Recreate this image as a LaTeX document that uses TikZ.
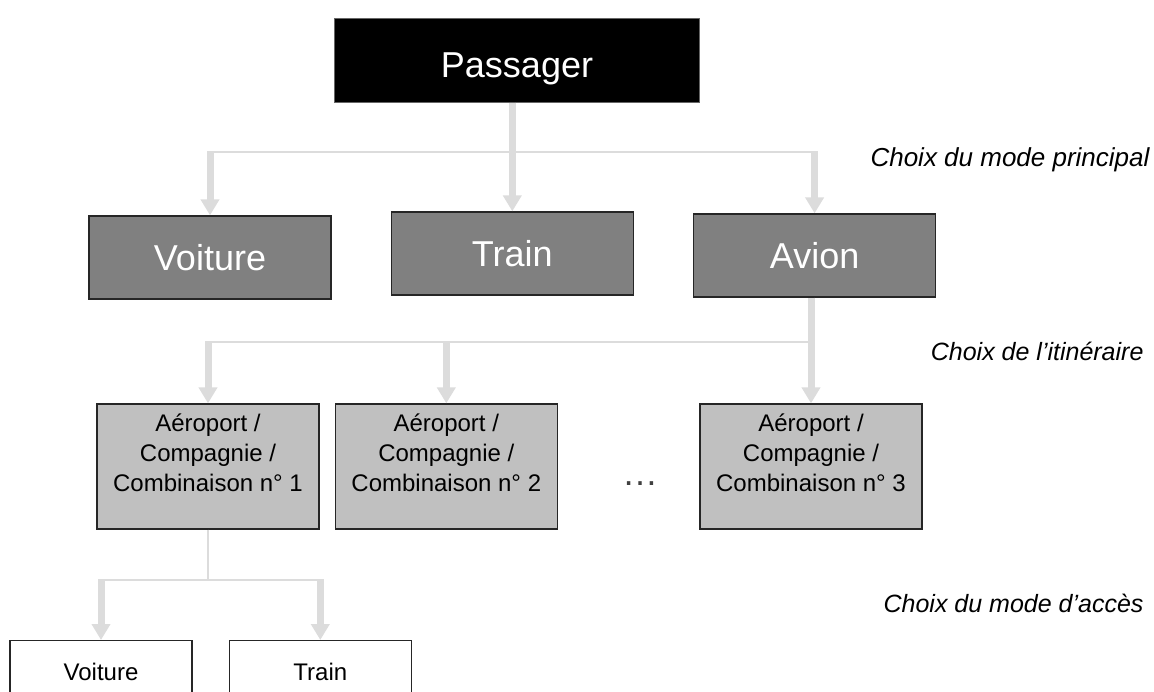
\documentclass[tikz,border=0pt]{standalone}
\usepackage{fontspec}
\setmainfont{Liberation Sans}
\usetikzlibrary{positioning,arrows.meta}

\definecolor{flechegris}{HTML}{DCDCDC}
\definecolor{modegris}{HTML}{808080}
\definecolor{routegris}{HTML}{C0C0C0}

\newcommand{\combi}[1]{A\'eroport /\\Compagnie /\\Combinaison n\textdegree\ #1\\[-2pt]\mbox{}}

\begin{document}
\begin{tikzpicture}[x=1pt,y=-1pt,
	racine/.style={fill=black, draw=black!60, line width=1pt, text=white, minimum width=365pt, minimum height=84pt, text height=34pt, text depth=0pt, font=\fontsize{36}{43}\selectfont},
	mode/.style={fill=modegris, draw=black!85, line width=1.3pt, text=white, minimum width=242pt, minimum height=83pt, font=\fontsize{36}{43}\selectfont},
	route/.style={fill=routegris, draw=black!85, line width=1.3pt, align=center, minimum width=222pt, minimum height=125pt, font=\fontsize{24}{30}\selectfont},
	acces/.style={fill=white, draw=black!85, line width=1.3pt, minimum width=182pt, minimum height=63pt, text height=17pt, text depth=0pt, font=\fontsize{24}{29}\selectfont},
	etape/.style={font=\fontsize{25}{30}\selectfont\itshape},
	trait/.style={draw=flechegris, line width=2pt},
	fleche/.style={draw=flechegris, line width=7pt, -{Triangle[width=18pt,length=16pt]}}]

\useasboundingbox (0,0) rectangle (1154,691);

%--racine : le passager
\node [racine] (passager) at (517,60) {Passager};

%--premier niveau : mode principal
\node [mode] (voiture) at (210,257.5) {Voiture};
\node [mode, right=59pt of voiture, yshift=4pt] (train) {Train};
\node [mode, right=59pt of train, yshift=-2pt] (avion) {Avion};

\coordinate (niv1) at (0,152);
\draw [trait] (niv1 -| voiture) -- (niv1 -| avion);
\draw [fleche] ([yshift=1pt]niv1 -| voiture) -- (voiture.north);
\draw [fleche] ([yshift=1pt]niv1 -| avion) -- (avion.north);
\draw [fleche] (train.north |- passager.south) -- (train.north);

\node [etape, font=\fontsize{26}{30}\selectfont\itshape, anchor=base east] (etape1) at (1153,166) {Choix du mode principal};

%--second niveau : itineraire aerien
\node [route] (route1) at (208,466.5) {\combi{1}};
\node [route, right=15pt of route1] (route2) {\combi{2}};
\node [route] (route3) at (811,466.5) {\combi{3}};
\node [text=black!75, font=\fontsize{36}{43}\selectfont] (etc) at (640,484) {\dots};

\coordinate (niv2) at (0,342);
\draw [trait] (niv2 -| route1) -- (niv2 -| route3);
\draw [fleche] ([yshift=1pt]niv2 -| route1) -- (route1.north);
\draw [fleche] ([yshift=1pt]niv2 -| route2) -- (route2.north);
\draw [fleche] (route3.north |- avion.south) -- (route3.north);

\node [etape, anchor=base east] (etape2) at (1147,360) {Choix de l'itin\'eraire};

%--troisieme niveau : mode d'acces
\node [acces, anchor=north] (voiture2) at (101,640) {Voiture};
\node [acces, right=36pt of voiture2] (train2) {Train};

\coordinate (niv3) at (0,580);
\draw [trait, line width=1.5pt] (route1.south) -- (niv3 -| route1);
\draw [trait] (niv3 -| voiture2) -- (niv3 -| train2);
\draw [fleche] ([yshift=1pt]niv3 -| voiture2) -- (voiture2.north);
\draw [fleche] ([yshift=1pt]niv3 -| train2) -- (train2.north);

\node [etape, anchor=base east] (etape3) at (1147,612) {Choix du mode d'acc\`es};

\end{tikzpicture}
\end{document}
